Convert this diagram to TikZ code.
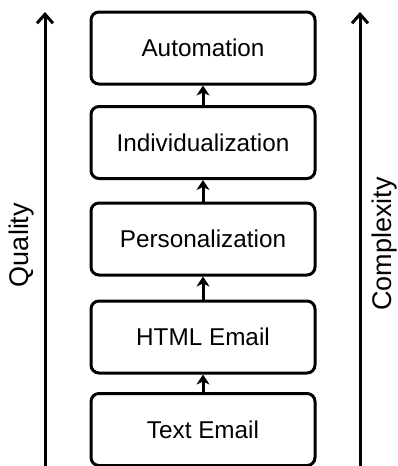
\documentclass[tikz,border=0pt]{standalone}
\usepackage{fontspec}
\setmainfont{Liberation Sans}
\usetikzlibrary{arrows.meta}
\begin{document}
\begin{tikzpicture}[x=1pt,y=-1pt,
  stage/.style={draw, line width=3pt, rounded corners=8pt,
    minimum width=224pt, minimum height=72pt, inner sep=0pt,
    font=\fontsize{24.3}{28}\selectfont},
  axis/.style={line width=3pt, -{Straight Barb[length=9pt,width=16pt]}},
  link/.style={line width=3pt, -{Stealth[length=10pt,width=13pt,inset=3pt]}},
  axislabel/.style={rotate=90, inner sep=0pt, font=\fontsize{27}{30}\selectfont}]
\useasboundingbox (0,0) rectangle (397,466);

% the five stages, bottom to top
\node[stage] (text)  at (203,429.5) {Text Email};
\node[stage] (html)  at (203,337)   {HTML Email};
\node[stage] (pers)  at (203,239)   {Personalization};
\node[stage] (indiv) at (203,142.5) {Individualization};
\node[stage] (auto)  at (203,48)    {Automation};

% steps between the stages
\draw[link] (text.north)  -- (html.south);
\draw[link] (html.north)  -- (pers.south);
\draw[link] (pers.north)  -- (indiv.south);
\draw[link] (indiv.north) -- (auto.south);

% side axes
\coordinate (qbase) at (45,470);
\coordinate (qtip)  at (45,12);
\coordinate (cbase) at (360,470);
\coordinate (ctip)  at (360,12);
\draw[axis] (qbase) -- (qtip);
\draw[axis] (cbase) -- (ctip);

\node[axislabel] (quality)    at (22,245)  {Quality};
\node[axislabel] (complexity) at (385,244) {Complexity};
\end{tikzpicture}
\end{document}
